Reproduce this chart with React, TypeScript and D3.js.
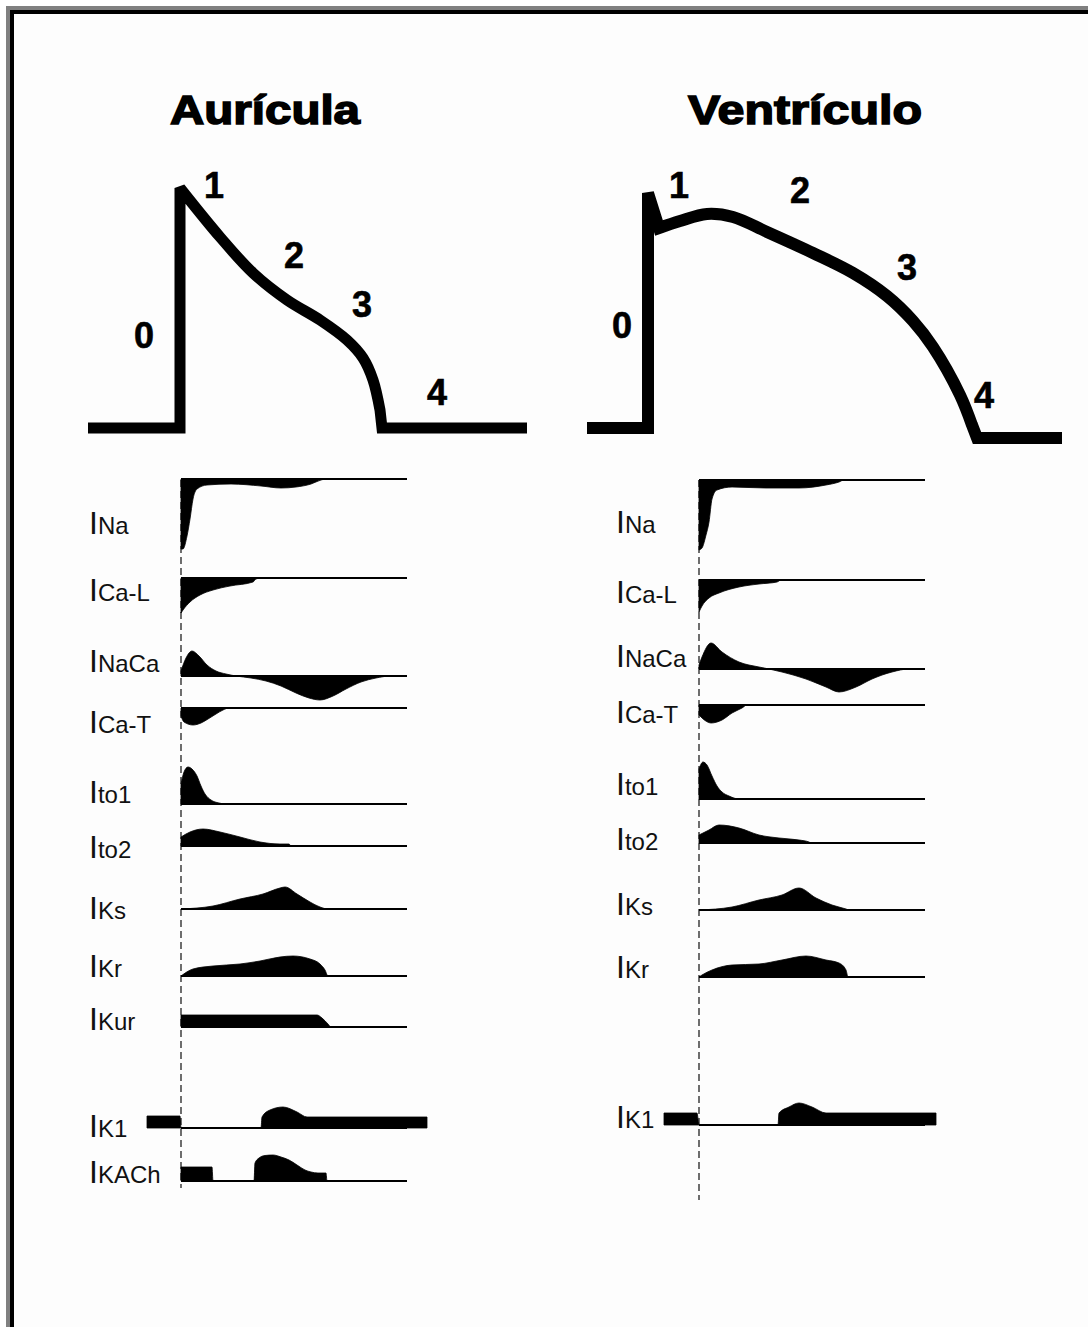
import * as d3 from 'd3';

type Pt = [number, number];

const W = 1088;
const H = 1327;

// ---- action potentials: [time ms, membrane potential mV] ----
const apAtriumRise: Pt[] = [[-92, -85], [0, -85]];
const apAtriumRepol: Pt[] = [[0, 35], [40, 10.5], [73, -7.5], [107, -21], [140, -31], [167, -41], [183, -50], [193, -61], [200, -76]];
const apAtriumRest: Pt[] = [[202, -85], [347, -85]];

const apVentRise: Pt[] = [[-61, -85], [0, -85], [0, 32.5]];
const apVentRepol: Pt[] = [[11, 15], [32, 18.5], [59, 22], [85, 20.5], [119, 13], [165, 2.5], [205, -7.5], [239, -19], [265, -31.5], [285, -44.5], [312, -68.5], [324, -83.5]];
const apVentRest: Pt[] = [[329, -90], [414, -90]];

// phase numbers anchored in [ms, mV]
const phaseText = ['0', '1', '2', '3', '4'];
const atriumPhaseAt: Pt[] = [[-36, -45], [34, 30], [114, -5], [182, -29.5], [257, -73.5]];
const ventPhaseAt: Pt[] = [[-26, -40], [31, 30], [152, 27.5], [259, -11], [336, -75]];

// ---- ionic currents: [time, amplitude] (outward > 0, inward < 0) ----
const aINa: Pt[] = [[0, -70], [2, -70], [6, -57], [9, -40], [12, -20], [16, -10], [26, -6], [50, -5], [80, -7], [100, -9], [115, -8], [130, -5], [140, -1], [145, 0], [226, 0]];
const aICaL: Pt[] = [[0, -35], [2, -32], [9, -24], [19, -17], [32, -12], [49, -8], [72, -4], [75, -1], [80, 0], [226, 0]];
const aINaCa: Pt[] = [[0, 5], [5, 18], [11, 25], [18, 20], [26, 11], [35, 5], [45, 2], [55, 0], [70, -2], [85, -5], [100, -10], [115, -17], [128, -22], [139, -24], [152, -20], [165, -13], [180, -6], [195, -2], [210, 0], [226, 0]];
const aICaT: Pt[] = [[0, -8], [3, -14], [12, -17], [20, -15], [27, -11], [35, -6], [42, -2], [48, 0], [226, 0]];
const aIto1: Pt[] = [[0, 20], [3, 32], [7, 37], [11, 35], [16, 28], [20, 18], [24, 10], [30, 4], [38, 1], [45, 0], [226, 0]];
const aIto2: Pt[] = [[0, 9], [9, 14], [22, 17], [39, 14], [59, 9], [79, 4], [99, 2], [108, 2], [110, 0], [226, 0]];
const aIKs: Pt[] = [[0, 0], [32, 3], [59, 10], [82, 15], [99, 21], [104, 22], [116, 15], [129, 7], [139, 2], [147, 0], [226, 0]];
const aIKr: Pt[] = [[0, 0], [12, 7], [32, 10], [59, 12], [79, 15], [99, 19], [112, 20], [129, 17], [139, 12], [144, 6], [147, 0], [226, 0]];
const aIKur: Pt[] = [[0, 12], [136, 12], [141, 9], [147, 3], [150, 0], [226, 0]];
const aIK1: Pt[] = [[-34, 12], [-1, 12], [0, 0], [80, 0], [81, 11], [89, 18], [102, 21], [116, 16], [126, 11], [246, 11]];
const aIKACh: Pt[] = [[0, 14], [31, 14], [32, 0], [73, 0], [74, 18], [78, 23], [84, 25.5], [92, 26], [100, 24], [108, 21], [116, 16], [124, 11], [130, 9], [137, 8], [145, 8], [146, 0], [226, 0]];

const vINa: Pt[] = [[0, -70], [3, -68], [7, -55], [10, -42], [13, -19], [18, -10], [33, -7], [67, -8], [100, -8], [127, -5], [140, -2], [145, 0], [226, 0]];
const vICaL: Pt[] = [[0, -32], [3, -26], [10, -18], [20, -13], [40, -7], [60, -4], [78, -2], [82, 0], [226, 0]];
const vINaCa: Pt[] = [[0, 4], [3, 12], [12, 26], [23, 17], [40, 7], [60, 2], [70, 0], [83, -3], [107, -10], [127, -18], [140, -23], [157, -18], [173, -10], [193, -3], [210, 0], [226, 0]];
const vICaT: Pt[] = [[0, -10], [3, -13], [12, -18], [23, -15], [33, -8], [43, -3], [48, 0], [226, 0]];
const vIto1: Pt[] = [[0, 30], [4, 37], [8, 34], [13, 23], [18, 13], [23, 7], [30, 3], [40, 0], [226, 0]];
const vIto2: Pt[] = [[0, 8], [10, 13], [20, 18], [40, 15], [60, 8], [80, 5], [100, 3], [110, 1], [112, 0], [226, 0]];
const vIKs: Pt[] = [[0, 0], [33, 3], [60, 10], [83, 15], [100, 22], [117, 12], [133, 5], [147, 1], [150, 0], [226, 0]];
const vIKr: Pt[] = [[0, 0], [3, 2], [13, 7], [33, 12], [60, 13], [83, 17], [107, 21], [127, 17], [140, 14], [147, 7], [149, 0], [226, 0]];
const vIK1: Pt[] = [[-35, 12], [-2, 12], [0, 0], [79, 0], [80, 12], [90, 18], [100, 22], [113, 18], [127, 12], [237, 12]];

const atrialNames = ['Na', 'Ca-L', 'NaCa', 'Ca-T', 'to1', 'to2', 'Ks', 'Kr', 'Kur', 'K1', 'KACh'];
const atrialSeries = [aINa, aICaL, aINaCa, aICaT, aIto1, aIto2, aIKs, aIKr, aIKur, aIK1, aIKACh];
const ventNames = ['Na', 'Ca-L', 'NaCa', 'Ca-T', 'to1', 'to2', 'Ks', 'Kr', 'K1'];
const ventSeries = [vINa, vICaL, vINaCa, vICaT, vIto1, vIto2, vIKs, vIKr, vIK1];

// layout
const atrialRowY = [479, 578, 676, 708, 804, 846, 909, 976, 1027, 1128, 1181];
const atrialLabelY = [534, 601, 672, 733, 803, 858, 919, 977, 1030, 1137, 1183];
const ventRowY = [480, 580, 669, 705, 799, 843, 910, 977, 1125];
const ventLabelY = [533, 603, 667, 723, 795, 850, 915, 978, 1128];

const FONT = "'Liberation Sans', Arial, Helvetica, sans-serif";

function apPath(x: d3.ScaleLinear<number, number>, y: d3.ScaleLinear<number, number>, parts: { pts: Pt[]; smooth: boolean }[]) {
  let d = '';
  parts.forEach((p, i) => {
    const gen = d3.line<Pt>()
      .x(v => x(v[0]))
      .y(v => y(v[1]))
      .curve(p.smooth ? d3.curveCatmullRom.alpha(0.5) : d3.curveLinear);
    let s = gen(p.pts) || '';
    if (i > 0) s = 'L' + s.slice(1);
    d += s;
  });
  return d;
}

function CurrentRows({ names, series, rowY, labelY, x0, labelX, dashEnd }: {
  names: string[]; series: Pt[][]; rowY: number[]; labelY: number[]; x0: number; labelX: number; dashEnd: number;
}) {
  const x = d3.scaleLinear().domain([0, 226]).range([x0, x0 + 226]);
  const amp = d3.scaleLinear().domain([-80, 40]).range([80, -40]);
  return (
    <g>
      <line x1={x(0)} x2={x(0)} y1={480} y2={dashEnd} stroke="#4a4a4a" strokeWidth={1.6} strokeDasharray="7,4" />
      {series.map((s, i) => {
        const base = rowY[i];
        const area = d3.area<Pt>()
          .x(d => x(d[0]))
          .y0(base + amp(0))
          .y1(d => base + amp(d[1]))
          .curve(d3.curveMonotoneX);
        return (
          <g key={names[i]}>
            <path d={area(s) || ''} fill="#000" stroke="#000" strokeWidth={0.8} />
            <line x1={x(0)} x2={x(226)} y1={base} y2={base} stroke="#000" strokeWidth={1.9} />
            <text x={labelX} y={labelY[i]} fontFamily={FONT} fill="#111">
              <tspan fontSize={32}>I</tspan>
              <tspan fontSize={24}>{names[i]}</tspan>
            </text>
          </g>
        );
      })}
    </g>
  );
}

export default function App() {
  const apY = d3.scaleLinear().domain([-85, 35]).range([428, 188]);
  const apXA = d3.scaleLinear().domain([-92, 347]).range([88, 527]);
  const apXV = d3.scaleLinear().domain([-61, 414]).range([587, 1062]);

  const atriumD = apPath(apXA, apY, [
    { pts: apAtriumRise, smooth: false },
    { pts: apAtriumRepol, smooth: true },
    { pts: apAtriumRest, smooth: false },
  ]);
  const ventD = apPath(apXV, apY, [
    { pts: apVentRise, smooth: false },
    { pts: apVentRepol, smooth: true },
    { pts: apVentRest, smooth: false },
  ]);

  return (
    <svg width={W} height={H} style={{ position: 'absolute', left: 0, top: 0 }}>
      <rect width={W} height={H} fill="#fff" />
      <rect x={10} y={10} width={W - 10} height={H - 10} fill="#fdfdfd" />
      {/* frame */}
      <rect x={6} y={6} width={W - 6} height={4} fill="#808080" />
      <rect x={6} y={6} width={4} height={H - 6} fill="#808080" />
      <rect x={10} y={10} width={W - 10} height={4} fill="#000" />
      <rect x={10} y={10} width={4} height={H - 10} fill="#000" />

      {/* titles */}
      <text x={170} y={124} fontFamily={FONT} fontWeight="bold" fontSize={40} stroke="#000" strokeWidth={1.5}
        textLength={190} lengthAdjust="spacingAndGlyphs">Aurícula</text>
      <text x={688} y={124} fontFamily={FONT} fontWeight="bold" fontSize={40} stroke="#000" strokeWidth={1.5}
        textLength={234} lengthAdjust="spacingAndGlyphs">Ventrículo</text>

      {/* action potentials */}
      <path d={atriumD} fill="none" stroke="#000" strokeWidth={11} strokeLinejoin="miter" strokeMiterlimit={2} />
      <path d={ventD} fill="none" stroke="#000" strokeWidth={12} strokeLinejoin="miter" strokeMiterlimit={2} />
      {phaseText.map((t, i) => (
        <text key={'a' + t} x={apXA(atriumPhaseAt[i][0])} y={apY(atriumPhaseAt[i][1])} textAnchor="middle"
          fontFamily={FONT} fontWeight="bold" fontSize={36} stroke="#000" strokeWidth={0.6}>{t}</text>
      ))}
      {phaseText.map((t, i) => (
        <text key={'v' + t} x={apXV(ventPhaseAt[i][0])} y={apY(ventPhaseAt[i][1])} textAnchor="middle"
          fontFamily={FONT} fontWeight="bold" fontSize={36} stroke="#000" strokeWidth={0.6}>{t}</text>
      ))}

      <CurrentRows names={atrialNames} series={atrialSeries} rowY={atrialRowY} labelY={atrialLabelY}
        x0={181} labelX={89} dashEnd={1188} />
      <CurrentRows names={ventNames} series={ventSeries} rowY={ventRowY} labelY={ventLabelY}
        x0={699} labelX={616} dashEnd={1200} />
    </svg>
  );
}
